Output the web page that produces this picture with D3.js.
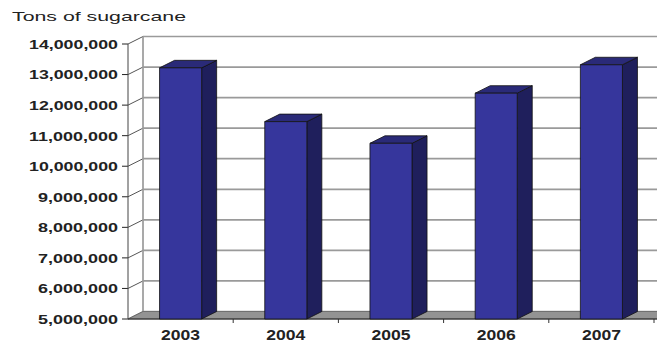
<!DOCTYPE html>
<html><head><meta charset="utf-8">
<script src="https://cdn.jsdelivr.net/npm/d3@7/dist/d3.min.js"></script>
<style>body{margin:0;background:#fff}svg{display:block}</style>
</head><body>
<script>
const years = ["2003","2004","2005","2006","2007"];
const tons = [13220000, 11460000, 10750000, 12390000, 13320000];
const yTicks = [5000000,6000000,7000000,8000000,9000000,10000000,11000000,12000000,13000000,14000000];
const title = "Tons of sugarcane";

const W=657,H=343;
const svg=d3.select("body").append("svg").attr("width",W).attr("height",H);
const x0=128, x1=654, DX=15, DY=-7.5;
const x=d3.scaleBand().domain(years).range([x0,x1]).paddingInner(0.6).paddingOuter(0.3);
const xb=d3.scaleBand().domain(years).range([x0,x1]);
const y=d3.scaleLinear().domain([5000000,14000000]).range([319,44]);
const fmt=d3.format(",");
const font="Arial, 'Liberation Sans', sans-serif";

svg.append("rect").attr("x",x0+DX).attr("y",y(14000000)+DY).attr("width",W).attr("height",y(5000000)-y(14000000)).attr("fill","#fff");
yTicks.forEach(t=>{
  const yy=y(t);
  svg.append("line").attr("x1",x0+DX).attr("x2",W+20).attr("y1",yy+DY).attr("y2",yy+DY).attr("stroke","#9a9a9a").attr("stroke-width",1.7);
  svg.append("line").attr("x1",x0).attr("x2",x0+DX).attr("y1",yy).attr("y2",yy+DY).attr("stroke","#555").attr("stroke-width",1);
  svg.append("line").attr("x1",x0-6).attr("x2",x0).attr("y1",yy).attr("y2",yy).attr("stroke","#222").attr("stroke-width",1);
  svg.append("text").attr("x",118).attr("y",yy).attr("dy","0.36em").attr("text-anchor","end")
    .attr("font-family",font).attr("font-weight","bold").attr("font-size",13.5).attr("fill","#222")
    .attr("textLength",t>=10000000?89:80).attr("lengthAdjust","spacingAndGlyphs").text(fmt(t));
});
svg.append("line").attr("x1",x0+DX).attr("x2",x0+DX).attr("y1",y(14000000)+DY).attr("y2",y(5000000)+DY).attr("stroke","#9a9a9a").attr("stroke-width",1.7);
svg.append("line").attr("x1",x0).attr("x2",x0).attr("y1",y(14000000)).attr("y2",y(5000000)).attr("stroke","#444").attr("stroke-width",1);
const fy=y(5000000);
svg.append("polygon").attr("points",[[x0,fy],[x0+DX,fy+DY],[W+30,fy+DY],[W+30,fy]].map(p=>p.join(",")).join(" "))
  .attr("fill","#939393").attr("stroke","#666").attr("stroke-width",0.8);
svg.append("line").attr("x1",x0).attr("x2",W).attr("y1",fy).attr("y2",fy).attr("stroke","#222").attr("stroke-width",1.2);
years.forEach(c=>{
  const bx=xb(c)+xb.bandwidth();
  svg.append("line").attr("x1",bx).attr("x2",bx).attr("y1",fy).attr("y2",fy+4).attr("stroke","#333").attr("stroke-width",1);
});
years.forEach((c,i)=>{
  const bx=x(c), bw=x.bandwidth(), yv=y(tons[i]);
  const g=svg.append("g").attr("stroke","#111").attr("stroke-width",0.8).attr("stroke-linejoin","round");
  g.append("polygon").attr("points",[[bx+bw,yv],[bx+bw+DX,yv+DY],[bx+bw+DX,fy+DY],[bx+bw,fy]].map(p=>p.join(",")).join(" ")).attr("fill","#1f1f5c");
  g.append("polygon").attr("points",[[bx,yv],[bx+DX,yv+DY],[bx+bw+DX,yv+DY],[bx+bw,yv]].map(p=>p.join(",")).join(" ")).attr("fill","#2a2a78");
  g.append("rect").attr("x",bx).attr("y",yv).attr("width",bw).attr("height",fy-yv).attr("fill","#36369c");
  svg.append("text").attr("x",xb(c)+xb.bandwidth()/2).attr("y",340).attr("text-anchor","middle")
    .attr("font-family",font).attr("font-weight","bold").attr("font-size",14).attr("fill","#222")
    .attr("textLength",39).attr("lengthAdjust","spacingAndGlyphs").text(c);
});
svg.append("text").attr("x",12).attr("y",21).attr("font-family",font).attr("font-size",13.5).attr("fill","#222")
  .attr("textLength",174).attr("lengthAdjust","spacingAndGlyphs").text(title);
</script>
</body></html>
